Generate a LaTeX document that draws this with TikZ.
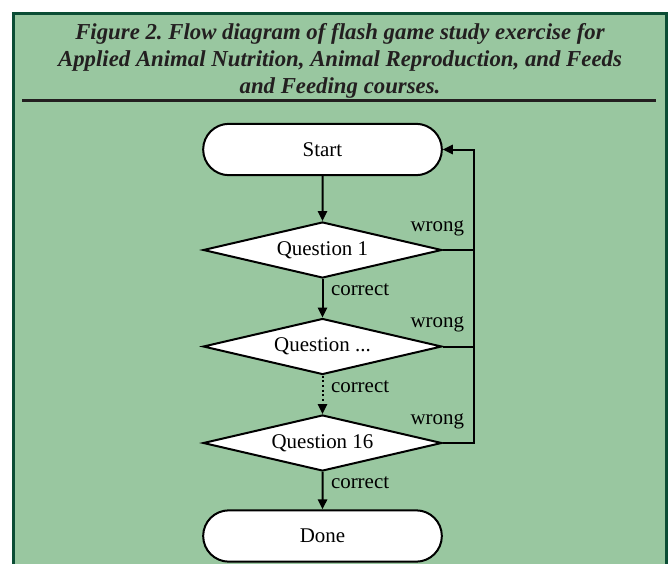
\documentclass[tikz,border=0pt]{standalone}
\usepackage{fontspec}
\setmainfont{Liberation Serif}
\usetikzlibrary{shapes.geometric,shapes.misc,arrows.meta}

\definecolor{panelgreen}{RGB}{153,199,160}
\definecolor{paneledge}{RGB}{11,77,53}
\definecolor{inkgrey}{RGB}{35,31,32}

\tikzset{every picture/.style={line width=1.5pt}}
\tikzset{
  terminal/.style={draw, fill=white, rounded rectangle, inner sep=0pt,
    minimum width=179pt, minimum height=38.5pt, font=\fontsize{15.7}{18}\selectfont},
  decision/.style={draw, fill=white, diamond, aspect=4.2, inner sep=0pt,
    minimum width=179pt, minimum height=42pt, font=\fontsize{15.7}{18}\selectfont},
  flowlabel/.style={inner sep=0pt, font=\fontsize{15.7}{18}\selectfont},
  flowarrow/.style={-{Triangle[length=7.5pt,width=7pt]}},
  caption/.style={align=center, text=inkgrey, inner sep=0pt,
    font=\fontsize{17.1}{20.25}\selectfont\bfseries\itshape\frenchspacing},
}

\begin{document}
\begin{tikzpicture}[x=0.75pt,y=0.75pt,yscale=-1,xscale=1]
\useasboundingbox (0,0) rectangle (668,564);

% Panel
\fill[panelgreen] (13.5,13.5) rectangle (666.5,564);
\draw[paneledge, line width=2.25pt] (13.5,564) -- (13.5,13.5) -- (666.5,13.5) -- (666.5,564);

% Caption
\node[caption, anchor=base] (title) at (340,93) {Figure 2. Flow diagram of flash game study exercise for\\
Applied Animal Nutrition, Animal Reproduction, and Feeds\\
and Feeding courses.};
\draw[inkgrey, line width=1.9pt] (22,100.7) -- (656,100.7);

% Text Node
\node[terminal] (start) at (322.5,149.5) {Start};
% Text Node
\node[decision] (q1) at (322.5,250) {Question 1};
% Text Node
\node[decision] (qn) at (322.5,346.5) {Question ...};
% Text Node
\node[decision] (q16) at (322.5,443) {Question 16};
% Text Node
\node[terminal] (done) at (322.5,536) {Done};

\coordinate (loop) at (474,0);

% Connection
\draw[flowarrow] (start) -- (q1);
\draw[flowarrow] (q1) -- (qn);
\draw[flowarrow, dotted] (qn) -- (q16);
\draw[flowarrow] (q16) -- (done);
% Connection
\draw (q1.east) -- (q1.east -| loop);
\draw (qn.east) -- (qn.east -| loop);
\draw[flowarrow] (q16.east) -| (start.east -| loop) -- (start.east);

% Labels
\node[flowlabel, anchor=base west] (c1) at (330,295) {correct};
\node[flowlabel, anchor=base west] (c2) at (330,392) {correct};
\node[flowlabel, anchor=base west] (c3) at (330,488) {correct};
\node[flowlabel, anchor=base east] (w1) at (465,231) {wrong};
\node[flowlabel, anchor=base east] (w2) at (465,327) {wrong};
\node[flowlabel, anchor=base east] (w3) at (465,424) {wrong};

\end{tikzpicture}
\end{document}
